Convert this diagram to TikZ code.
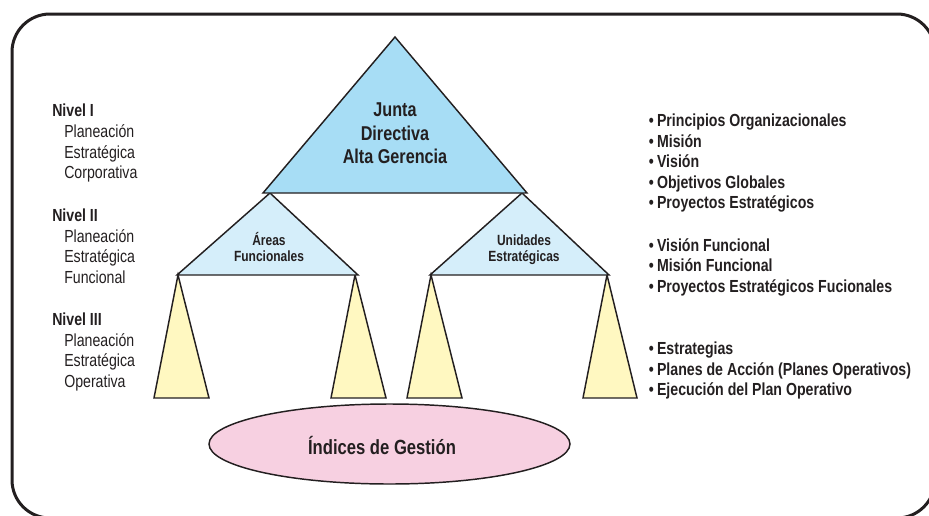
\documentclass[tikz,border=0pt]{standalone}
\usepackage{fontspec}
\setmainfont{Liberation Sans}[FakeStretch=0.81]
\usetikzlibrary{shapes.geometric}

\definecolor{ink}{HTML}{231F20}
\definecolor{topblue}{HTML}{A7DDF5}
\definecolor{midblue}{HTML}{D5EEFA}
\definecolor{lowyellow}{HTML}{FFF8C1}
\definecolor{ovalpink}{HTML}{F7D0E1}

\begin{document}
\begin{tikzpicture}[x=0.75pt, y=-0.75pt,
    tribox/.style = {draw=ink, line width=1.1pt, line join=miter},
    oval/.style = {draw=ink, line width=1.1pt, ellipse, fill=ovalpink, inner sep=0pt,
                   minimum width=270.75pt, minimum height=60pt},
    toptxt/.style = {anchor=base, inner sep=0pt, text=ink, font=\bfseries\fontsize{15}{18}\selectfont},
    midtxt/.style = {anchor=base, inner sep=0pt, text=ink, font=\bfseries\fontsize{11.1}{13}\selectfont},
    lvltxt/.style = {anchor=base west, inner sep=0pt, text=ink, font=\bfseries\fontsize{13.1}{15}\selectfont},
    subtxt/.style = {anchor=base west, inner sep=0pt, text=ink, font=\fontsize{13.1}{15}\selectfont},
    itemtxt/.style = {lvltxt}]
    \useasboundingbox (0,0) rectangle (929,515);
    \clip (0,0) rectangle (929,515);

    % frame
    \draw[ink, line width=2.25pt, rounded corners=28.5pt] (12,14) rectangle (935,518);

    % corners of the pyramid
    \coordinate (apex) at (395,37);
    \coordinate (bl) at (263,193);
    \coordinate (br) at (527,193);
    \coordinate (fa) at (270,193);
    \coordinate (fl) at (177,275);
    \coordinate (fr) at (358,275);
    \coordinate (ua) at (522,193);
    \coordinate (ul) at (430,275);
    \coordinate (ur) at (609,275);

    % level III
    \foreach \ax/\lx/\rx in {178/154/209, 355/331/386, 431/407/462, 607/583/637}
        \draw[tribox, fill=lowyellow] (\ax,275) -- (\rx,398) -- (\lx,398) -- cycle;

    % level II
    \draw[tribox, fill=midblue] (fa) -- (fr) -- (fl) -- cycle;
    \draw[tribox, fill=midblue] (ua) -- (ur) -- (ul) -- cycle;

    % level I
    \draw[tribox, fill=topblue] (apex) -- (br) -- (bl) -- cycle;

    \node[toptxt] (junta) at (395,116) {Junta};
    \node[toptxt] (directiva) at (395,140) {Directiva};
    \node[toptxt] (gerencia) at (395,163.5) {Alta Gerencia};

    \node[midtxt] (areas) at (269,245) {Áreas};
    \node[midtxt] (funcionales) at (269,261.5) {Funcionales};
    \node[midtxt] (unidades) at (524,245) {Unidades};
    \node[midtxt] (estrategicas) at (524,261.5) {Estratégicas};

    % indices
    \node[oval] (indices) at (389.5,444) {};
    \node[toptxt, font=\bfseries\fontsize{15.4}{18}\selectfont] (indtxt) at (382,454) {Índices de Gestión};

    % left column
    \node[lvltxt] (nivel1) at (52,116.5) {Nivel I};
    \foreach \yy/\txt [count=\i] in {137.5/Planeación, 158/Estratégica, 178.5/Corporativa}
        \node[subtxt] (sub1\i) at (64,\yy) {\txt};
    \node[lvltxt] (nivel2) at (52,221) {Nivel II};
    \foreach \yy/\txt [count=\i] in {242/Planeación, 262.5/Estratégica, 283/Funcional}
        \node[subtxt] (sub2\i) at (64,\yy) {\txt};
    \node[lvltxt] (nivel3) at (52,325) {Nivel III};
    \foreach \yy/\txt [count=\i] in {346/Planeación, 366.5/Estratégica, 387/Operativa}
        \node[subtxt] (sub3\i) at (64,\yy) {\txt};

    % right column
    \foreach \yy/\txt [count=\i] in {126.5/Principios Organizacionales, 147/Misión, 167.5/Visión,
            188/Objetivos Globales, 208.5/Proyectos Estratégicos,
            251/Visión Funcional, 271.5/Misión Funcional, 292/Proyectos Estratégicos Fucionales,
            354.5/Estrategias, 375/Planes de Acción (Planes Operativos), 395.5/Ejecución del Plan Operativo}
        \node[itemtxt] (item\i) at (648.5,\yy) {\textbullet\hspace{2.5pt}\txt};

\end{tikzpicture}
\end{document}
